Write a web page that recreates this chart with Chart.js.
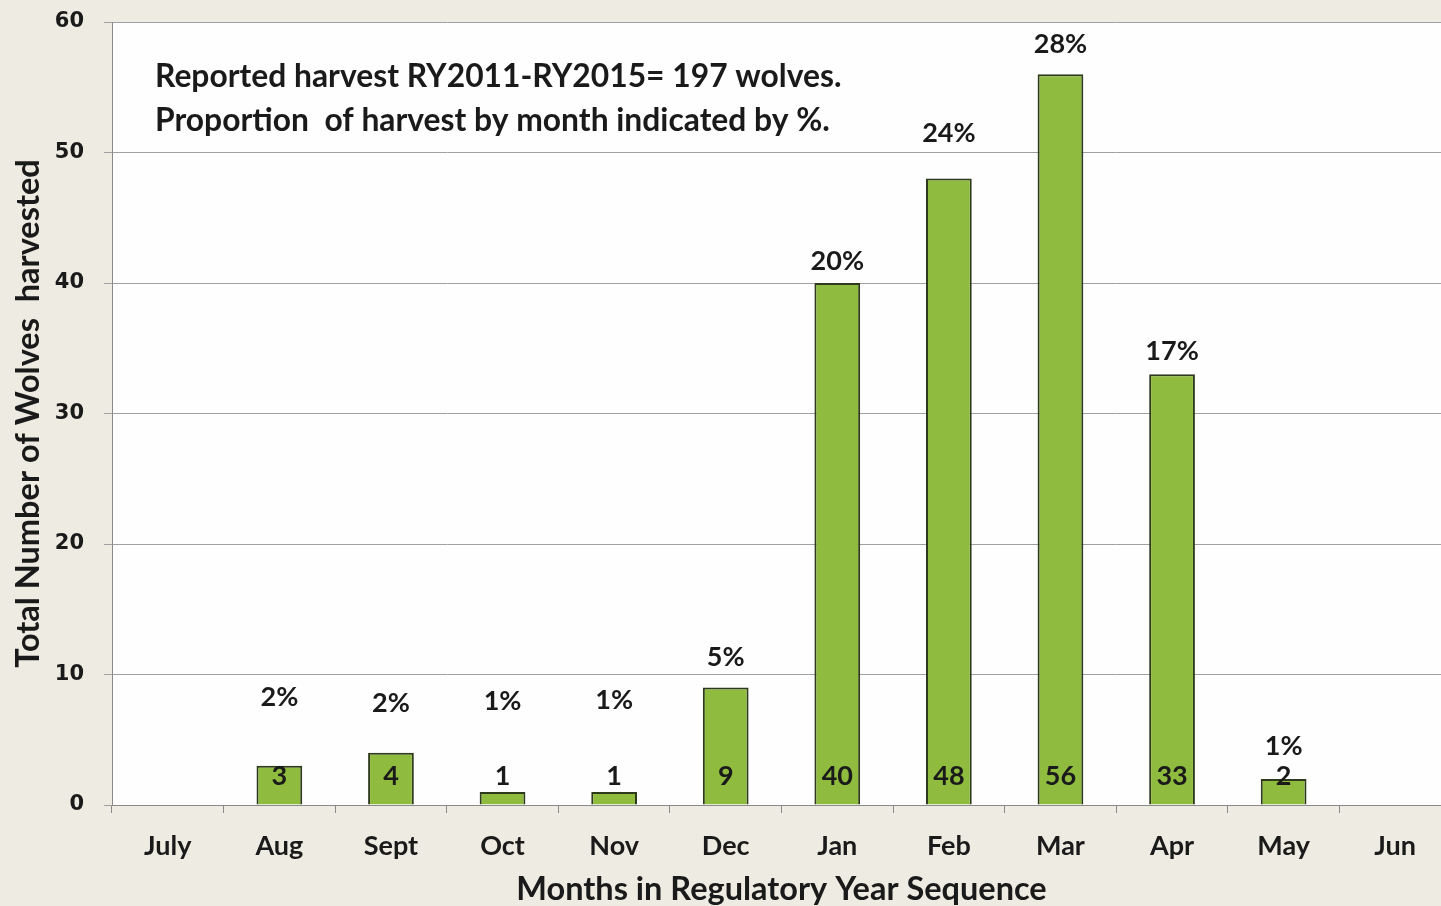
<!DOCTYPE html>
<html>
<head>
<meta charset="utf-8">
<script src="https://cdn.jsdelivr.net/npm/chart.js@4/dist/chart.umd.min.js"></script>
<style>
  html, body { margin: 0; padding: 0; background: #eeebe2; overflow: hidden; }
  #wrap { position: absolute; left: 0; top: 0; width: 1451px; height: 906px; }
</style>
</head>
<body>
<div id="wrap"><canvas id="c"></canvas></div>
<script>
const months = ['July','Aug','Sept','Oct','Nov','Dec','Jan','Feb','Mar','Apr','May','Jun'];
const wolvesHarvested = [null, 3, 4, 1, 1, 9, 40, 48, 56, 33, 2, null];
const percentLabels = ['', '2%', '2%', '1%', '1%', '5%', '20%', '24%', '28%', '17%', '1%', ''];
const yTicks = [0, 10, 20, 30, 40, 50, 60];
const noteLines = ['Reported harvest RY2011-RY2015= 197 wolves.', 'Proportion  of harvest by month indicated by %.'];

const FONT = 'Lato, "Open Sans", sans-serif';

const bgPlugin = {
  id: 'plotBg',
  beforeDraw(chart) {
    const {ctx, chartArea: a} = chart;
    ctx.save();
    ctx.fillStyle = '#fefefe';
    ctx.fillRect(a.left, a.top, a.right - a.left, a.bottom - a.top);
    ctx.restore();
  }
};

const labelPlugin = {
  id: 'barLabels',
  afterDatasetsDraw(chart, args, opts) {
    const {ctx} = chart;
    const meta = chart.getDatasetMeta(0);
    const y = chart.scales.y;
    ctx.save();
    ctx.fillStyle = '#1a1a1a';
    ctx.textAlign = 'center';
    ctx.textBaseline = 'middle';
    ctx.font = 'bold 27px ' + FONT;
    meta.data.forEach((bar, i) => {
      const v = wolvesHarvested[i];
      if (v == null) return;
      ctx.fillText(String(v), bar.x, y.getPixelForValue(0) - 29);
      ctx.fillText(percentLabels[i], bar.x, bar.y - opts.lift[i]);
    });
    ctx.textAlign = 'left';
    ctx.font = 'bold 31.8px ' + FONT;
    ctx.fillText(noteLines[0], 155, 77);
    ctx.fillText(noteLines[1], 155, 121);
    ctx.restore();
  }
};

new Chart(document.getElementById('c'), {
  type: 'bar',
  data: {
    labels: months,
    datasets: [{
      data: wolvesHarvested,
      backgroundColor: '#8fbb3f',
      borderColor: '#2f3a1c',
      borderWidth: 2,
      borderSkipped: 'bottom',
      categoryPercentage: 1,
      barPercentage: 0.41
    }]
  },
  options: {
    responsive: true,
    maintainAspectRatio: false,
    animation: false,
    layout: { padding: { top: 22, right: 0, left: 0, bottom: 0 } },
    plugins: {
      legend: { display: false },
      tooltip: { enabled: false },
      barLabels: { lift: [0, 69, 50, 91, 92, 30, 22, 45, 30, 23, 33, 0] }
    },
    scales: {
      x: {
        grid: { display: true, drawOnChartArea: false, offset: true, tickLength: 8, color: '#8a8a8a' },
        border: { color: '#8a8a8a', width: 1 },
        ticks: { color: '#1a1a1a', font: { family: FONT, size: 27, weight: 'bold' }, padding: 17 },
        title: { display: true, text: 'Months in Regulatory Year Sequence', color: '#1a1a1a',
                 font: { family: FONT, size: 32.5, weight: 'bold', lineHeight: 1 }, padding: { top: 0, bottom: 0 } },
        afterFit(s) { s.height = 101; s.paddingLeft = 0; s.paddingRight = 0; }
      },
      y: {
        min: 0, max: 60,
        afterBuildTicks(s) { s.ticks = yTicks.map(v => ({ value: v })); },
        grid: { color: '#a0a0a0', lineWidth: 1, tickLength: 8 },
        border: { color: '#8a8a8a', width: 1 },
        ticks: { color: '#1a1a1a', font: { family: '"DejaVu Sans", sans-serif', size: 21, weight: 'bold' }, padding: 20 },
        title: { display: true, text: 'Total Number of Wolves  harvested', color: '#1a1a1a',
                 font: { family: FONT, size: 32.5, weight: 'bold', lineHeight: 1 }, padding: { top: 12, bottom: 0 } },
        afterFit(s) { s.width = 112; s.paddingTop = 0; s.paddingBottom = 0; }
      }
    }
  },
  plugins: [bgPlugin, labelPlugin]
});
</script>
</body>
</html>
